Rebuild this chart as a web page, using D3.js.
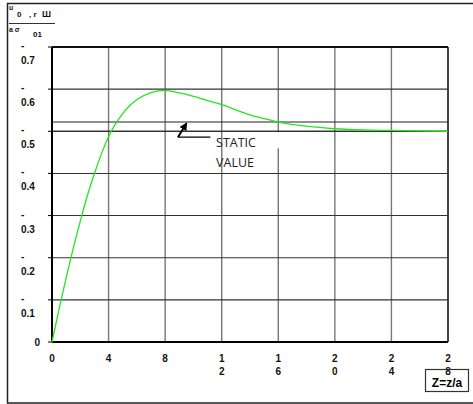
<!DOCTYPE html>
<html>
<head>
<meta charset="utf-8">
<script src="https://cdn.jsdelivr.net/npm/d3@7"></script>
<style>
  body { margin: 0; background: #fff; }
  svg { display: block; font-family: "Liberation Sans", Arial, sans-serif; }
  .tick-lbl { font-size: 10px; font-weight: bold; fill: #111; }
</style>
</head>
<body>
<div class="chart"></div>
<script>
// curve
const zVals = [0, 0.5, 1, 1.5, 2, 2.5, 3, 3.5, 4, 4.5, 5, 5.5, 6, 7, 8, 9, 10, 11, 12, 13, 14, 15, 16, 18, 20, 22, 24, 26, 28];
const uVals = [0, 0.078, 0.152, 0.222, 0.287, 0.347, 0.400, 0.447, 0.487, 0.518, 0.542, 0.561, 0.575, 0.592, 0.597, 0.591, 0.583, 0.573, 0.563, 0.551, 0.539, 0.53, 0.522, 0.512, 0.506, 0.503, 0.502, 0.501, 0.5];
const xTicks = [0, 4, 8, 12, 16, 20, 24, 28];
const yTicks = [0, 0.1, 0.2, 0.3, 0.4, 0.5, 0.6, 0.7];
const refLines = [0.522, 0.5];

const W = 473, H = 404;
const margin = {top: 47, left: 52, right: 25, bottom: 62};
const width = W - margin.left - margin.right;
const height = H - margin.top - margin.bottom;

const root = d3.select(".chart").append("svg")
    .attr("width", W)
    .attr("height", H);

// outer frame (right edge runs off the page)
root.append("path")
    .attr("d", "M480,3.5 H7.5 V403 H480")
    .attr("fill", "none")
    .attr("stroke", "#222")
    .attr("stroke-width", 1.5);

const svg = root.append("g")
    .attr("transform", "translate(" + margin.left + "," + margin.top + ")");

const xScale = d3.scaleLinear().domain([0, 28]).range([0, width]);
const yScale = d3.scaleLinear().domain([0, 0.7]).range([height, 0]);

// vertical grid
svg.selectAll(".vgrid")
    .data(xTicks.slice(1))
    .enter().append("line")
    .attr("class", "vgrid")
    .attr("x1", d => xScale(d)).attr("x2", d => xScale(d))
    .attr("y1", 0).attr("y2", height)
    .attr("stroke", d => d === 28 ? "#444" : "#777")
    .attr("stroke-width", d => d === 28 ? 2 : 1.4);

// horizontal grid
svg.selectAll(".hgrid")
    .data(yTicks.slice(1))
    .enter().append("line")
    .attr("class", "hgrid")
    .attr("x1", 0).attr("x2", width)
    .attr("y1", d => yScale(d)).attr("y2", d => yScale(d))
    .attr("stroke", d => d === 0.7 ? "#111" : "#333")
    .attr("stroke-width", d => d === 0.7 ? 2 : 1.1);

// static value lines
svg.selectAll(".ref")
    .data(refLines)
    .enter().append("line")
    .attr("class", "ref")
    .attr("x1", 0).attr("x2", width)
    .attr("y1", d => yScale(d)).attr("y2", d => yScale(d))
    .attr("stroke", "#222")
    .attr("stroke-width", 1.1);

// little white gap under the 0.5 line at z=16
svg.append("rect")
    .attr("x", xScale(16) - 2)
    .attr("y", yScale(0.5) + 1)
    .attr("width", 4)
    .attr("height", 16)
    .attr("fill", "#fff");

// axes lines
svg.append("line")
    .attr("x1", 0).attr("x2", 0).attr("y1", 0).attr("y2", height)
    .attr("stroke", "#000").attr("stroke-width", 2);
svg.append("line")
    .attr("x1", 0).attr("x2", width).attr("y1", height).attr("y2", height)
    .attr("stroke", "#000").attr("stroke-width", 2);

// y ticks and labels
svg.selectAll(".ytick")
    .data(yTicks)
    .enter().append("line")
    .attr("x1", -4).attr("x2", 0)
    .attr("y1", d => yScale(d)).attr("y2", d => yScale(d))
    .attr("stroke", "#000");

const yl = svg.selectAll(".ylbl")
    .data(yTicks.slice(1))
    .enter().append("g")
    .attr("transform", d => `translate(-31,${yScale(d)})`);
yl.append("text").attr("class", "tick-lbl").attr("y", 2).text("-");
yl.append("text").attr("class", "tick-lbl").attr("y", 17).text(d => d3.format(".1f")(d));

svg.append("text")
    .attr("class", "tick-lbl")
    .attr("x", -12).attr("y", height + 4)
    .attr("text-anchor", "end")
    .text("0");

// x tick labels, digits stacked
const xl = svg.selectAll(".xlbl")
    .data(xTicks)
    .enter().append("text")
    .attr("class", "tick-lbl")
    .attr("text-anchor", "middle")
    .attr("transform", d => `translate(${xScale(d)},${height + 20})`);
xl.selectAll("tspan")
    .data(d => String(d).split(""))
    .enter().append("tspan")
    .attr("x", 0)
    .attr("dy", (c, i) => i === 0 ? 0 : 13)
    .text(c => c);

// curve
const line = d3.line()
    .x((d, i) => xScale(zVals[i]))
    .y(d => yScale(d))
    .curve(d3.curveMonotoneX);

svg.append("path")
    .datum(uVals)
    .attr("fill", "none")
    .attr("stroke", "#22e622")
    .attr("stroke-width", 1.3)
    .attr("d", line);

// STATIC VALUE annotation
const ax = xScale(8.9), ay = yScale(0.486);
svg.append("defs").append("marker")
    .attr("id", "arr")
    .attr("viewBox", "0 0 10 10")
    .attr("refX", 8).attr("refY", 5)
    .attr("markerWidth", 4).attr("markerHeight", 4)
    .attr("orient", "auto")
    .append("path").attr("d", "M0,0 L10,5 L0,10 z").attr("fill", "#000");
svg.append("line")
    .attr("x1", ax).attr("y1", ay)
    .attr("x2", xScale(9.5)).attr("y2", yScale(0.518))
    .attr("stroke", "#000").attr("stroke-width", 2)
    .attr("marker-end", "url(#arr)");
svg.append("line")
    .attr("x1", ax).attr("y1", ay)
    .attr("x2", xScale(11.2)).attr("y2", ay)
    .attr("stroke", "#000").attr("stroke-width", 1.2);
svg.append("text")
    .attr("x", xScale(11.6)).attr("y", yScale(0.463))
    .attr("font-family", "'Open Sans', sans-serif")
    .attr("font-size", 12.5)
    .attr("fill", "#222")
    .text("STATIC");
svg.append("text")
    .attr("x", xScale(11.6)).attr("y", yScale(0.416))
    .attr("font-family", "'Open Sans', sans-serif")
    .attr("font-size", 12.5)
    .attr("fill", "#222")
    .text("VALUE");

// x axis title in a box
root.append("rect")
    .attr("x", 425.5).attr("y", 369.5)
    .attr("width", 43).attr("height", 22)
    .attr("fill", "none")
    .attr("stroke", "#333").attr("stroke-width", 1.2);
root.append("text")
    .attr("x", 447).attr("y", 387)
    .attr("text-anchor", "middle")
    .attr("font-size", 12).attr("font-weight", "bold")
    .text("Z=z/a");

// y axis title (fraction)
const yt = root.append("g").attr("font-weight", "bold").attr("fill", "#111");
yt.append("text").attr("x", 9).attr("y", 10).attr("font-size", 7).text("u");
yt.append("text").attr("x", 17).attr("y", 17).attr("font-size", 8).text("0");
yt.append("text").attr("x", 29).attr("y", 17).attr("font-size", 8).text(", r");
yt.append("text").attr("x", 42).attr("y", 17).attr("font-size", 9).text("Ш");
yt.append("line")
    .attr("x1", 9).attr("x2", 55).attr("y1", 23.5).attr("y2", 23.5)
    .attr("stroke", "#333").attr("stroke-width", 1);
yt.append("text").attr("x", 9).attr("y", 32).attr("font-size", 7).text("a  σ");
yt.append("text").attr("x", 33).attr("y", 37).attr("font-size", 8).text("01");
</script>
</body>
</html>
